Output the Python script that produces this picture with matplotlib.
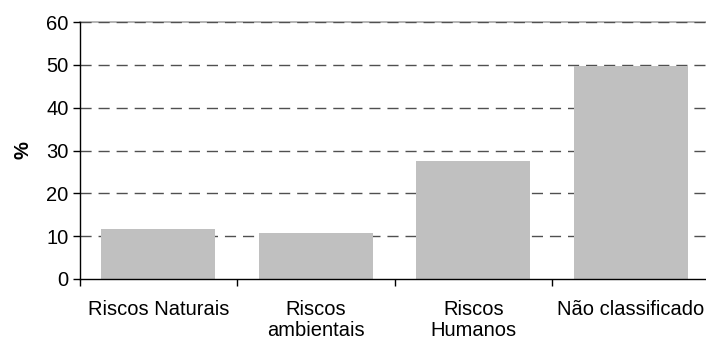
import numpy as np
import matplotlib.pyplot as plt

categories = ["Riscos Naturais", "Riscos\nambientais", "Riscos\nHumanos", "Não classificado"]
values = [11.7, 10.7, 27.5, 49.8]
y_ticks = [0, 10, 20, 30, 40, 50, 60]

plt.rcParams['font.family'] = ['Liberation Sans', 'DejaVu Sans']

fig = plt.figure(figsize=(7.06, 3.40), dpi=100)
W, H = 706, 340
left, right, top, bottom = 79.5, 709.5, 22, 279
ax = fig.add_axes([left / W, 1 - bottom / H, (right - left) / W, (bottom - top) / H])

x = np.arange(len(categories))
ax.bar(x, values, width=0.725, color='#c0c0c0', zorder=2)

ax.set_xlim(-0.5, len(categories) - 0.5)
ax.set_ylim(0, 60)
ax.set_yticks(y_ticks)
ax.set_yticklabels([str(t) for t in y_ticks], fontsize=14.5)

# category labels sit between the boundary ticks
ax.set_xticks(x)
ax.set_xticklabels(categories, fontsize=14.5, linespacing=1.12)
ax.tick_params(axis='x', length=0, pad=15)
ax.set_xticks(np.arange(-0.5, len(categories), 1.0), minor=True)
ax.tick_params(axis='x', which='minor', length=5, width=1, direction='out', color='black')
ax.tick_params(axis='y', length=5, width=1, direction='out', pad=3)

for t in y_ticks[1:]:
    ax.axhline(t, color='#505050', linewidth=1, linestyle=(0, (8, 5)), zorder=1)
# plot-area border along the top
ax.axhline(60, color='#a8a8a8', linewidth=1.2, zorder=0.9, clip_on=False)

for side in ['top', 'right']:
    ax.spines[side].set_visible(False)
ax.spines['left'].set_linewidth(1)
ax.spines['bottom'].set_linewidth(1)

ax.set_ylabel("%", fontsize=14.5, fontweight='bold', labelpad=10)

fig.savefig("out.png", dpi=100)
